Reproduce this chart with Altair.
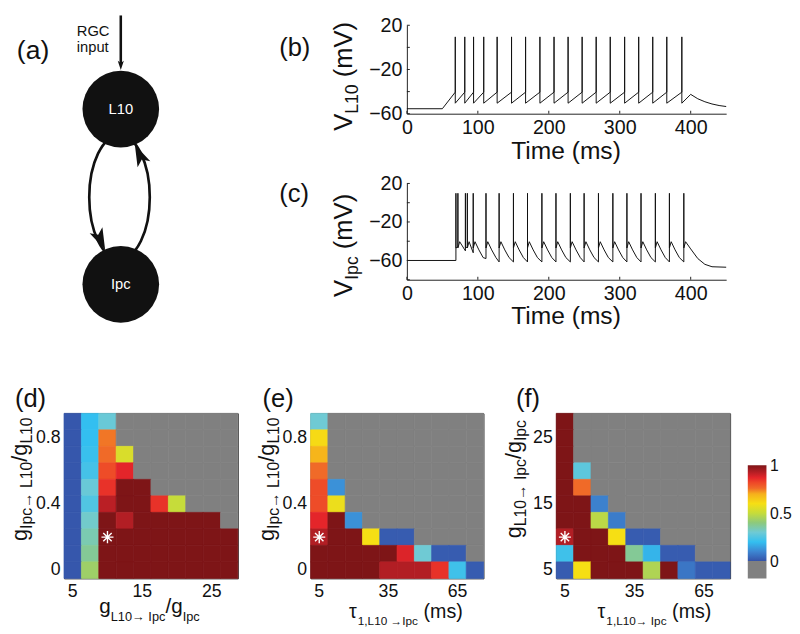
import altair as alt
import pandas as pd

FONT = "Liberation Sans"
INK = "#111111"
GRAY = "#808080"

# ---------------- (a) schematic (diagram units relative to panel origin) ----------------
node_names = ["L10", "Ipc"]
node_x = [57.8, 57.8]
node_y = [85.3, 263.7]
loop_x = [56.5]
loop_y = [175.0]
head_x = [37.0, 77.0]
head_y = [218.0, 132.0]
head_angle = [155, 335]
rgc_x = [57.8]
rgc_top = [-10.0]
rgc_end = [40.0]
rgc_head_y = [40.6]

# ---------------- (b) L10 membrane potential ----------------
b_rest, b_onset = -55.5, 50.0
b_spikes = [68.2, 81.6, 94.0, 108.3, 127.2, 147.5, 167.3, 187.5, 207.4, 227.2,
            247.0, 266.8, 286.6, 306.9, 326.7, 346.5, 366.3, 387.5]
b_thresh, b_peak, b_reset = -40.5, 9.5, -50.5
b_tail_t = [400, 410, 420, 430, 440, 450]
b_tail_v = [-42.5, -46.5, -49.2, -51.2, -52.6, -53.5]

# ---------------- (c) Ipc membrane potential ----------------
c_rest = -60.0
c_spikes = [69.1, 71.9, 82.5, 85.2, 93.5, 111.5, 130.0, 150.2, 170.0, 190.3,
            210.1, 230.4, 249.8, 270.0, 290.3, 310.1, 330.0, 350.2, 370.0, 390.3]
c_pre = [-60, -46, -50, -46, -52, -58, -61.5, -61.5, -61.5, -61.5,
         -61.5, -61.5, -61.5, -61.5, -61.5, -61.5, -61.5, -61.5, -61.5, -61.5]
c_peak, c_post = 9.8, -47.0
c_hump_dt, c_hump_v = 2.5, -40.5
c_decay_dt = [8.0, 14.0]
c_decay_v = [-49.0, -57.0]
c_tail_t = [392.8, 400, 410, 420, 430, 450]
c_tail_v = [-40.5, -48, -58, -64, -66.5, -67]

time_ticks = [0, 100, 200, 300, 400]
b_yticks = [20, 0, -20, -40, -60]
c_yticks = [20, 0, -20, -40, -60, -80]
mv_labels = [20, -20, -60]

# ---------------- heat maps (rows listed top -> bottom, -1 = no value / gray) ----------------
G = -1
d_x = [5, 7.5, 10, 12.5, 15, 17.5, 20, 22.5, 25, 27.5]
d_y = [0.9, 0.8, 0.7, 0.6, 0.5, 0.4, 0.3, 0.2, 0.1, 0.0]
d_grid = [
    [0.01, 0.20, 0.29, G, G, G, G, G, G, G],
    [0.01, 0.20, 0.75, G, G, G, G, G, G, G],
    [0.01, 0.21, 0.76, 0.54, G, G, G, G, G, G],
    [0.01, 0.23, 0.81, 0.87, G, G, G, G, G, G],
    [0.01, 0.29, 0.85, 1, 1, G, G, G, G, G],
    [0.01, 0.25, 0.92, 1, 1, 0.85, 0.50, G, G, G],
    [0.01, 0.31, 1, 0.93, 1, 1, 1, 1, 1, G],
    [0.01, 0.34, 1, 1, 1, 1, 1, 1, 1, 1],
    [0.01, 0.37, 1, 1, 1, 1, 1, 1, 1, 1],
    [0.01, 0.43, 1, 1, 1, 1, 1, 1, 1, 1],
]
d_star = (10, 0.2)

e_x = [5, 12.5, 20, 27.5, 35, 42.5, 50, 57.5, 65, 72.5]
e_y = [0.9, 0.8, 0.7, 0.6, 0.5, 0.4, 0.3, 0.2, 0.1, 0.0]
e_grid = [
    [0.30, G, G, G, G, G, G, G, G, G],
    [0.61, G, G, G, G, G, G, G, G, G],
    [0.69, G, G, G, G, G, G, G, G, G],
    [0.76, G, G, G, G, G, G, G, G, G],
    [0.81, 0.12, G, G, G, G, G, G, G, G],
    [0.81, 0.58, G, G, G, G, G, G, G, G],
    [0.87, 1, 0.12, G, G, G, G, G, G, G],
    [0.93, 1, 1, 0.60, 0.02, 0.02, G, G, G, G],
    [1, 1, 1, 1, 1, 0.88, 0.30, 0.02, 0.02, G],
    [1, 1, 1, 1, 0.93, 0.93, 0.93, 0.85, 0.22, 0.02],
]
e_star = (5, 0.2)

f_x = [5, 12.5, 20, 27.5, 35, 42.5, 50, 57.5, 65, 72.5]
f_y = [27.5, 25, 22.5, 20, 17.5, 15, 12.5, 10, 7.5, 5]
f_grid = [
    [1, G, G, G, G, G, G, G, G, G],
    [1, G, G, G, G, G, G, G, G, G],
    [1, G, G, G, G, G, G, G, G, G],
    [1, 0.27, G, G, G, G, G, G, G, G],
    [1, 0.76, G, G, G, G, G, G, G, G],
    [1, 1, 0.09, G, G, G, G, G, G, G],
    [1, 1, 0.48, 0.08, G, G, G, G, G, G],
    [0.93, 1, 1, 0.60, 0.02, 0.02, G, G, G, G],
    [0.22, 1, 1, 1, 0.37, 0.18, 0.02, 0.02, G, G],
    [0.02, 0.60, 1, 1, 1, 0.46, 1, 0.07, 0.02, 0.02],
]
f_star = (5, 10)

# jet-like colour map as printed
cmap_v = [0.0, 0.1, 0.2, 0.3, 0.4, 0.5, 0.6, 0.7, 0.76, 0.82, 0.87, 0.93, 1.0]
cmap_c = ["#3552a8", "#3d86d2", "#33bff0", "#6fcad4", "#8dc97c", "#c6dc3a", "#f6df14",
          "#f6b01c", "#f06a28", "#ee4628", "#e4252a", "#b21e24", "#7e1517"]
cb_lo, cb_hi, cb_top = -0.18, 1.0, 1.54
cb_labels = [0, 0.5, 1]

# ---------------- helpers ----------------
one = pd.DataFrame({"k": [0]})
EM = {" ": 0.278, "(": 0.333, ")": 0.333, ",": 0.278, "/": 0.278, "0": 0.556, "1": 0.556,
      "I": 0.278, "L": 0.556, "V": 0.667, "T": 0.611, "c": 0.5, "g": 0.556, "m": 0.833,
      "p": 0.556, "s": 0.5, "i": 0.222, "e": 0.556, "\u2192": 1.0, "\u03c4": 0.45}


def tw(s, size):
    return sum(EM.get(ch, 0.556) for ch in s) * size


def box(L, T, W, H, R, B):
    return alt.Chart(one).mark_rect(opacity=0).encode(
        x=alt.value(-L), x2=alt.value(W + R), y=alt.value(-T), y2=alt.value(H + B))


def txt(s, x, y, size, angle=0, align="left", color=INK):
    kw = dict(text=s, fontSize=size, font=FONT, align=align, baseline="alphabetic", color=color)
    if angle:
        kw["angle"] = angle
    return alt.Chart(one).mark_text(**kw).encode(x=alt.value(x), y=alt.value(y))


def title_h(pieces, cx, by):
    total = sum(tw(t, s) for t, s, _ in pieces)
    x = cx - total / 2
    out = []
    for t, s, sh in pieces:
        if t.startswith(" "):
            x += tw(" ", s)
            t = t[1:]
        out.append(txt(t, x, by + sh, s))
        x += tw(t, s)
    return out


def title_v(pieces, bx, cy):
    total = sum(tw(t, s) for t, s, _ in pieces)
    y = cy + total / 2
    out = []
    for t, s, sh in pieces:
        if t.startswith(" "):
            y -= tw(" ", s)
            t = t[1:]
        out.append(txt(t, bx + sh, y, s, angle=270))
        y -= tw(t, s)
    return out


# ---------------- panel (a) ----------------
AW, AH = 177, 317
ax = alt.X("x:Q", scale=alt.Scale(domain=[0, AW], nice=False, zero=False), axis=None)
ay = alt.Y("y:Q", scale=alt.Scale(domain=[AH, 0], nice=False, zero=False), axis=None)
ELLIPSE = ("M0,-1C0.27,-1 0.489,-0.552 0.489,0C0.489,0.552 0.27,1 0,1"
           "C-0.27,1 -0.489,0.552 -0.489,0C-0.489,-0.552 -0.27,-1 0,-1Z")
ARROW = "M0,-1L0.62,0.9L0,0.45L-0.62,0.9Z"

loop = alt.Chart(pd.DataFrame({"x": loop_x, "y": loop_y})).mark_point(
    shape=ELLIPSE, size=15876, filled=False, color=INK, strokeWidth=2.7, opacity=1
).encode(x=ax, y=ay)
heads = alt.Chart(pd.DataFrame({"x": head_x, "y": head_y, "a": head_angle})).mark_point(
    shape=ARROW, size=530, filled=True, color=INK, opacity=1
).encode(x=ax, y=ay, angle=alt.Angle("a:Q", scale=None))
nodes = alt.Chart(pd.DataFrame({"x": node_x, "y": node_y, "name": node_names}))
circles = nodes.mark_circle(size=6084, color=INK, opacity=1).encode(x=ax, y=ay)
names = nodes.mark_text(color="white", fontSize=15, font=FONT, align="center", baseline="middle").encode(
    x=ax, y=ay, text="name:N")
rgc = alt.Chart(pd.DataFrame({"x": rgc_x, "y": rgc_top, "y2": rgc_end})).mark_rule(
    color=INK, strokeWidth=2.6).encode(x=ax, y=ay, y2="y2:Q")
rgc_head = alt.Chart(pd.DataFrame({"x": rgc_x, "y": rgc_head_y})).mark_point(
    shape=ARROW, size=100, filled=True, color=INK, opacity=1, angle=180).encode(x=ax, y=ay)

a_chart = alt.layer(
    box(55, 10, AW, AH, 0, 0), loop, heads, circles, names, rgc, rgc_head,
    txt("RGC", 13, 11.3, 15), txt("input", 13, 27.5, 15), txt("(a)", -48, 34.6, 27),
).properties(width=AW, height=AH)


# ---------------- panels (b), (c) ----------------
def trace_panel(t, v, ydom, yticks, H, label, lab_y, sub, ytitle_cy, time_by, T, B):
    df = pd.DataFrame({"t": t, "v": v, "i": list(range(len(t)))})
    xs = alt.X("t:Q", scale=alt.Scale(domain=[0, 450], nice=False, zero=False),
               axis=alt.Axis(values=time_ticks, ticks=False, labelFlush=False, labelOverlap=False,
                             labelFontSize=20, labelPadding=4, title=None, domainColor="#222"))
    ys = alt.Y("v:Q", scale=alt.Scale(domain=ydom, nice=False, zero=False),
               axis=alt.Axis(values=mv_labels, ticks=False, labelFlush=False, labelOverlap=False,
                             labelFontSize=20, labelPadding=5, title=None, domainColor="#222"))
    line = alt.Chart(df).mark_line(color=INK, strokeWidth=1).encode(x=xs, y=ys, order="i:Q")
    xt = alt.Chart(pd.DataFrame({"t": time_ticks})).mark_rule(color="#222", strokeWidth=1).encode(
        x=xs, y=alt.value(H), y2=alt.value(H - 3))
    yt = alt.Chart(pd.DataFrame({"v": yticks})).mark_rule(color="#222", strokeWidth=1).encode(
        y=ys, x=alt.value(0), x2=alt.value(3))
    layers = [box(172, T, 325, H, 55, B), line, xt, yt, txt(label, -130, lab_y, 26)]
    layers += title_v([("V", 26, 0), (sub, 18, 6), (" (mV)", 26, 0)], -56, ytitle_cy)
    layers += title_h([("Time (ms)", 25, 0)], 162.5, time_by)
    return alt.layer(*layers).properties(width=325, height=H)


b_t, b_v = [0, b_onset], [b_rest, b_rest]
for ts in b_spikes:
    b_t += [ts, ts, ts]
    b_v += [b_thresh, b_peak, b_reset]
b_t += b_tail_t
b_v += b_tail_v

c_t, c_v = [0], [c_rest]
for k, ts in enumerate(c_spikes):
    c_t += [ts, ts, ts]
    c_v += [c_pre[k], c_peak, c_post]
    if k + 1 == len(c_spikes):
        break
    gap = c_spikes[k + 1] - ts
    if gap > 5:
        c_t.append(ts + c_hump_dt)
        c_v.append(c_hump_v)
    if gap > 12:
        c_t += [ts + d for d in c_decay_dt]
        c_v += c_decay_v
c_t += c_tail_t
c_v += c_tail_v

b_chart = trace_panel(b_t, b_v, [-60, 20], b_yticks, 90, "(b)", 31.5, "L10", 52, 136, 10, 60)
c_chart = trace_panel(c_t, c_v, [-80, 20], c_yticks, 98, "(c)", 18.8, "Ipc", 63, 143, 11, 58)

# ---------------- heat maps ----------------
CDOM = [-1, -0.001] + cmap_v
CRANGE = [GRAY, GRAY] + cmap_c
STAR = "M-1,0L1,0M0,-1L0,1M-0.7,-0.7L0.7,0.7M-0.7,0.7L0.7,-0.7"


def heat(xs, ys, grid, star, xvals, yvals, W, L, R, label, lab_x, ytitle, ytb, xtitle, xcx, xby):
    df = pd.DataFrame([{"x": xv, "y": yv, "v": grid[r][c]}
                       for r, yv in enumerate(ys) for c, xv in enumerate(xs)])
    hx = alt.X("x:O", scale=alt.Scale(domain=xs, paddingInner=0, paddingOuter=0),
               axis=alt.Axis(values=xvals, labelAngle=0, ticks=False, domain=False,
                             labelFontSize=18, labelPadding=4, title=None))
    hy = alt.Y("y:O", scale=alt.Scale(domain=ys, paddingInner=0, paddingOuter=0),
               axis=alt.Axis(values=yvals, ticks=False, domain=False,
                             labelFontSize=18, labelPadding=4, title=None))
    cscale = alt.Scale(domain=CDOM, range=CRANGE, interpolate="rgb")
    rect = alt.Chart(df).mark_rect(strokeWidth=0.7).encode(
        x=hx, y=hy,
        color=alt.Color("v:Q", scale=cscale, legend=None),
        stroke=alt.Stroke("v:Q", scale=cscale, legend=None))
    st = alt.Chart(pd.DataFrame({"x": [star[0]], "y": [star[1]]})).mark_point(
        shape=STAR, size=150, filled=False, color="white", strokeWidth=1.4, opacity=1).encode(x=hx, y=hy)
    layers = [box(L, 77, W, 168, R, 50), rect, st, txt(label, lab_x, -6, 26)]
    layers += title_v(ytitle, ytb, 67)
    layers += title_h(xtitle, xcx, xby)
    return alt.layer(*layers).properties(
        width=W, height=168, view=alt.ViewBackground(stroke="#333", strokeWidth=1))


yt_d = [("g", 22, 0), ("Ipc\u2192 L10", 16, 5), ("/g", 22, 0), ("L10", 16, 5)]
yt_f = [("g", 22, 0), ("L10\u2192 Ipc", 16, 5), ("/g", 22, 0), ("Ipc", 16, 5)]
xt_d = [("g", 21, 0), ("L10\u2192 Ipc", 13, 8), ("/g", 21, 0), ("Ipc", 13, 8)]
xt_e = [("\u03c4", 20, 0), ("1,L10 \u2192Ipc", 12, 7), (" (ms)", 20, 0)]
xt_f = [("\u03c4", 20, 0), ("1,L10\u2192 Ipc", 12, 7), (" (ms)", 20, 0)]

d_chart = heat(d_x, d_y, d_grid, d_star, [5, 15, 25], [0.8, 0.4, 0.0], 177, 55, 10,
               "(d)", -50, yt_d, -37.5, xt_d, 87, 203)
e_chart = heat(e_x, e_y, e_grid, e_star, [5, 35, 65], [0.8, 0.4, 0.0], 176, 62, 9,
               "(e)", -49, yt_d, -37.5, xt_e, 97, 208.5)
f_chart = heat(f_x, f_y, f_grid, f_star, [5, 35, 65], [25, 15, 5], 177, 63, 8,
               "(f)", -41, yt_f, -36, xt_f, 100, 208.5)

# ---------------- colour bar ----------------
span = cb_hi - cb_lo
stops = [(0.0, GRAY), ((0 - cb_lo) / span, GRAY)]
stops += [((v - cb_lo) / span, c) for v, c in zip(cmap_v, cmap_c)]
grad = alt.LinearGradient(gradient="linear", x1=0, x2=0, y1=1, y2=0,
                          stops=[alt.GradientStop(offset=o, color=c) for o, c in stops])
cb_bar = alt.Chart(pd.DataFrame({"lo": [cb_lo], "hi": [cb_hi]})).mark_rect(color=grad).encode(
    y=alt.Y("lo:Q", scale=alt.Scale(domain=[cb_lo, cb_top], nice=False, zero=False),
            axis=alt.Axis(orient="right", values=cb_labels, labelExpr="'' + datum.value",
                          ticks=False, domain=False, labelFontSize=16, labelPadding=3,
                          labelFlush=False, labelOverlap=False, title=None)),
    y2="hi:Q", x=alt.value(0), x2=alt.value(19))
cb_chart = alt.layer(box(9, 77, 19, 168, 26, 50), cb_bar).properties(width=19, height=168)

# ---------------- assemble ----------------
bc = alt.vconcat(b_chart, c_chart, spacing=0)
top = alt.hconcat(a_chart, bc, spacing=0)
bottom = alt.hconcat(d_chart, e_chart, f_chart, cb_chart, spacing=0)
chart = alt.vconcat(top, bottom, spacing=0).properties(
    padding=0, background="white"
).configure_view(stroke=None).configure_axis(
    grid=False, labelFont=FONT, labelColor=INK, domainColor="#222"
)
chart.save("out.html", embed_options={"renderer": "svg", "actions": False})
